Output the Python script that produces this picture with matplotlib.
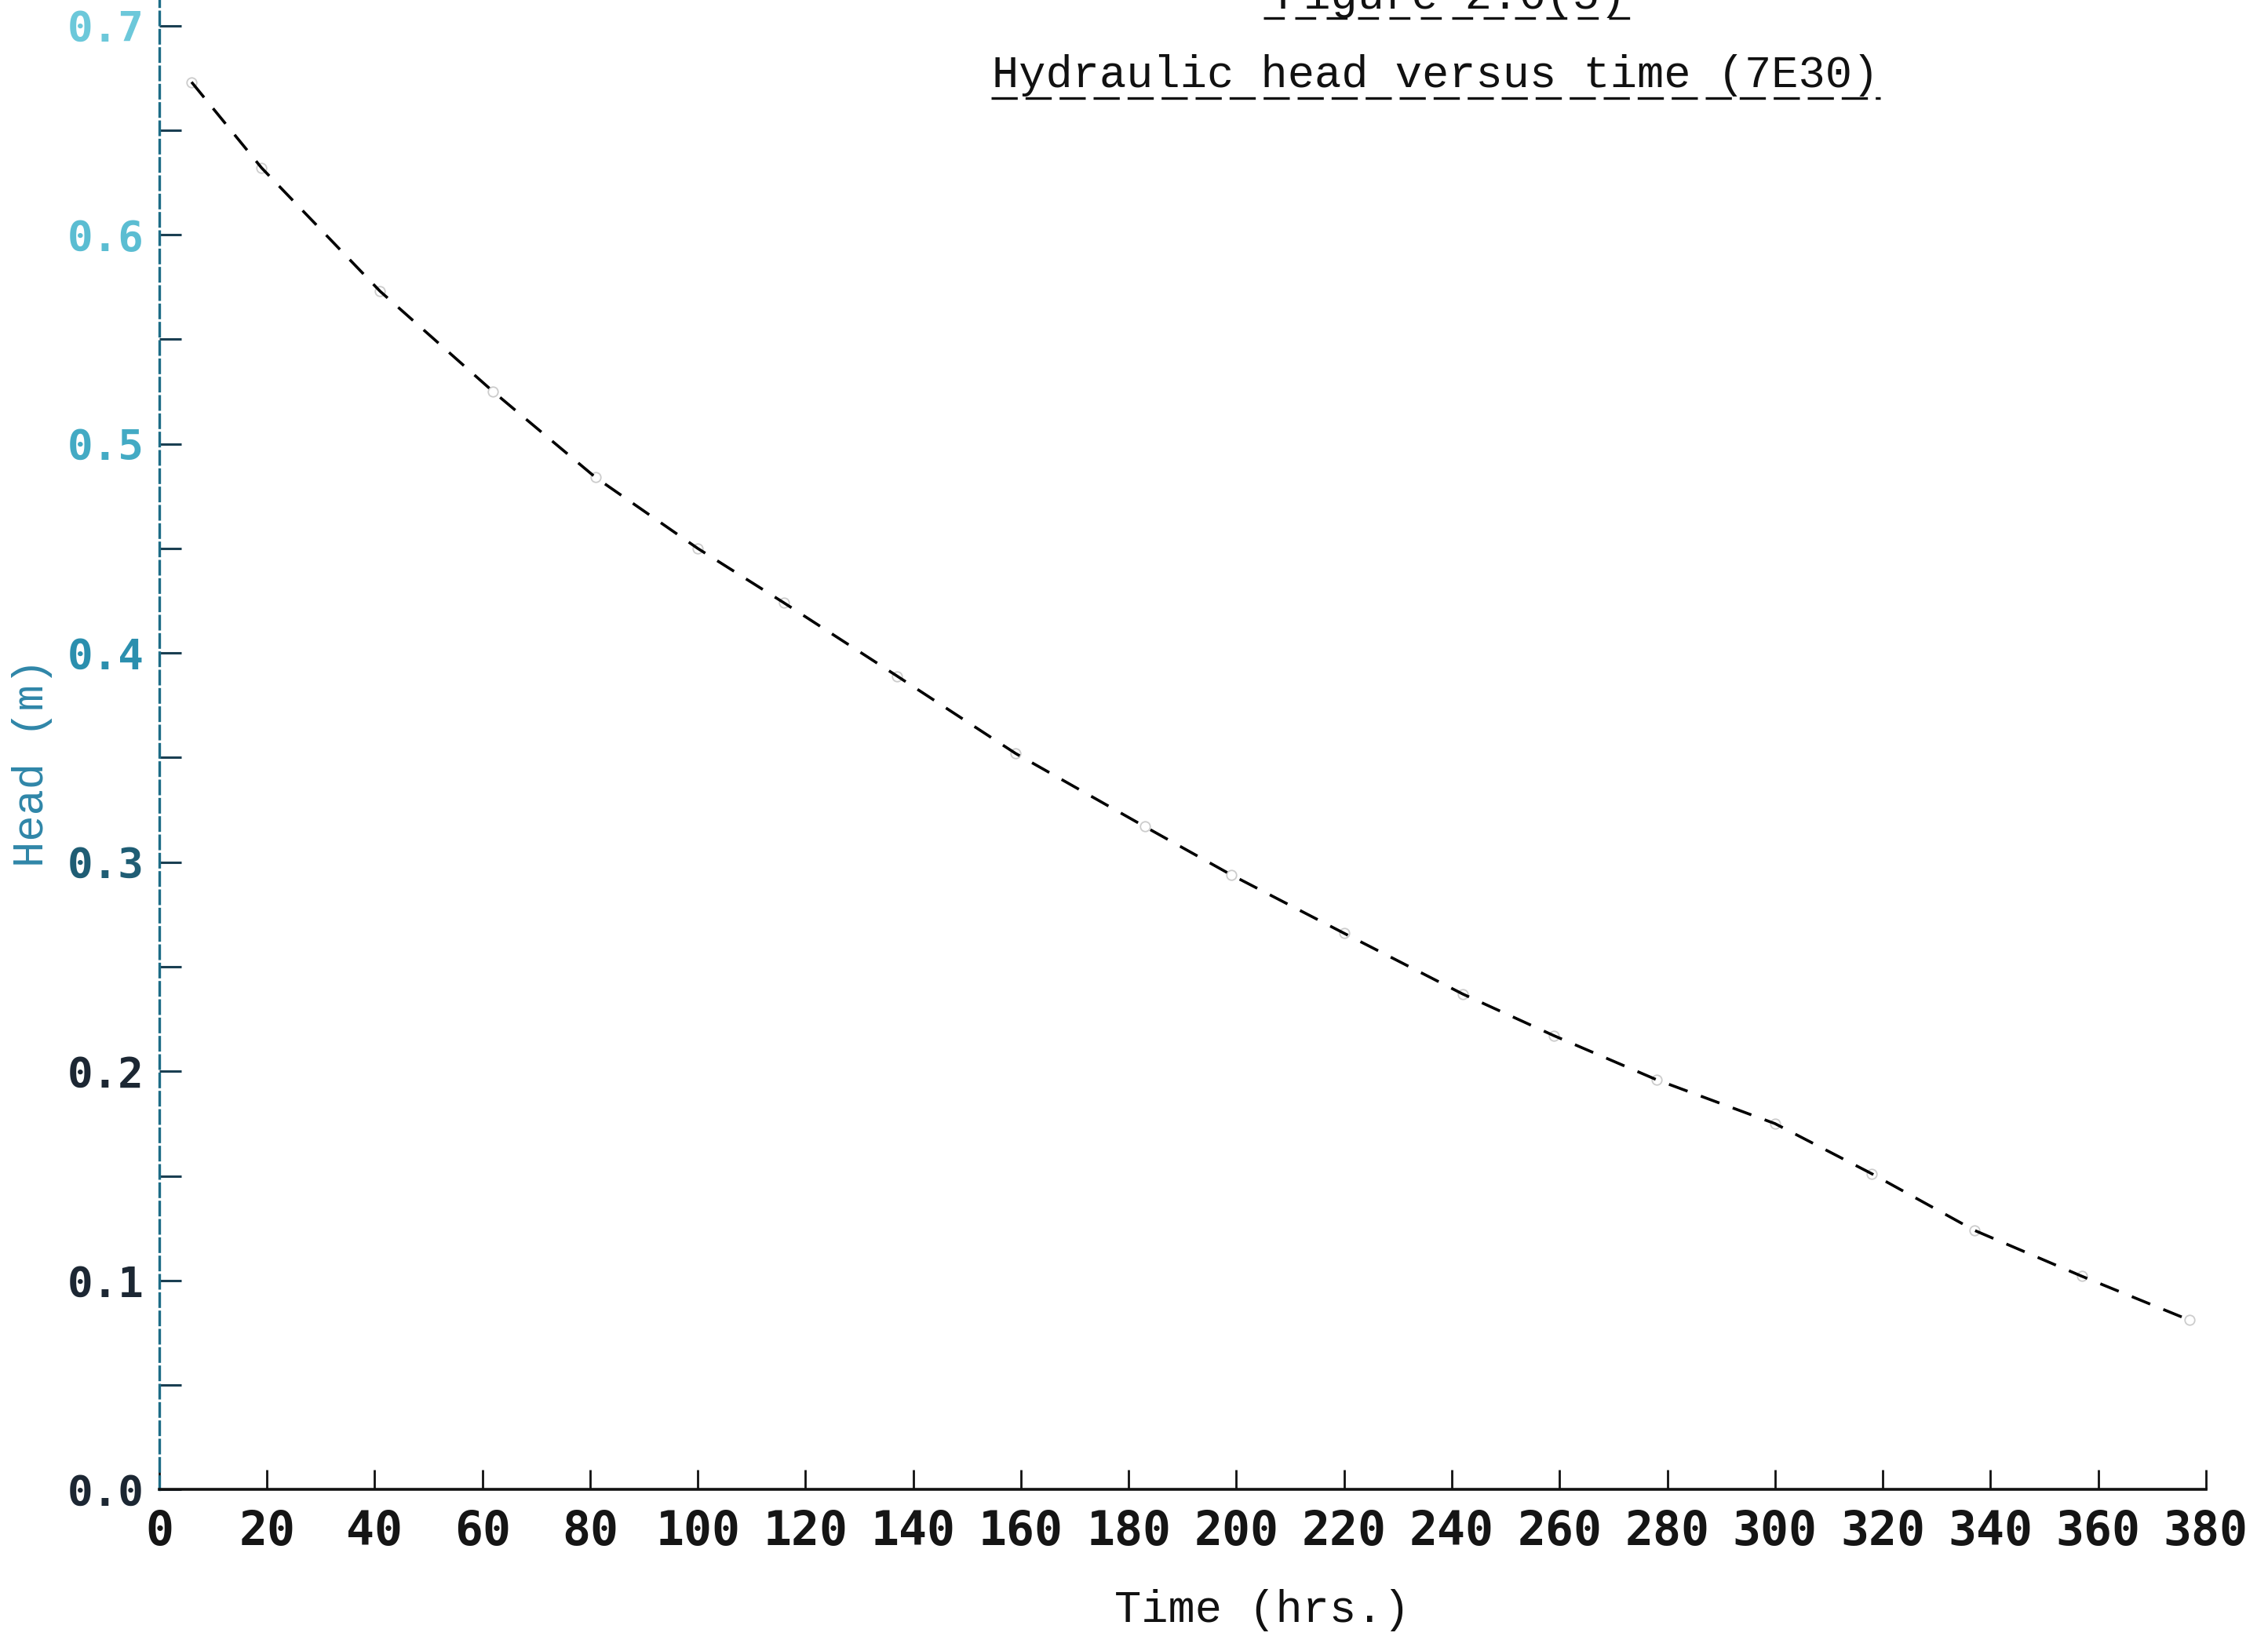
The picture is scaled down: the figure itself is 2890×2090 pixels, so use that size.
import matplotlib
matplotlib.use("Agg")
import matplotlib.pyplot as plt
from matplotlib.lines import Line2D
import numpy as np

# Values
time_hrs = [6, 19, 41, 62, 81, 100, 116, 137, 159, 183, 199, 220, 242, 259, 278, 300, 318, 337, 357, 377]
head_m = [0.673, 0.632, 0.573, 0.525, 0.484, 0.450, 0.424, 0.389, 0.352, 0.317,
          0.294, 0.266, 0.237, 0.217, 0.196, 0.175, 0.151, 0.124, 0.102, 0.081]

x_ticks = list(range(0, 381, 20))
y_ticks = [0.0, 0.1, 0.2, 0.3, 0.4, 0.5, 0.6, 0.7]
y_tick_labels = ["0.0", "0.1", "0.2", "0.3", "0.4", "0.5", "0.6", "0.7"]
y_label_colors = ["#1c2733", "#1c2733", "#1c2733", "#1f5d74", "#2b8fae", "#43aac4", "#5bbdd2", "#6cc8da"]

title = "Hydraulic head versus time (7E30)"
caption = "Figure 2.6(5)"

mono = ["Liberation Mono", "DejaVu Sans Mono"]
gothic = ["DejaVu Sans Mono"]

fig = plt.figure(figsize=(28.9, 20.9), dpi=100)
ax = fig.add_axes([0.0702, 0.0917, 0.9024, 0.908])

# the data line, dashed like the typed original
ax.plot(time_hrs, head_m, color="black", lw=2.6, dashes=(7, 5), zorder=3)
ax.plot(time_hrs, head_m, ls="none", marker="o", ms=9, mfc="none",
        mec="#9a9a9a", mew=1.3, alpha=0.5, zorder=2)

ax.set_xlim(0, 380)
ax.set_ylim(0, 0.712)

# axes - only left and bottom, drawn in by hand originally
for side in ["top", "right"]:
    ax.spines[side].set_visible(False)
ax.spines["bottom"].set_color("#111111")
ax.spines["bottom"].set_linewidth(2.6)
ax.spines["left"].set_color("#1d6c86")
ax.spines["left"].set_linewidth(2.4)
ax.spines["left"].set_linestyle((0, (5, 2)))

ax.set_xticks(x_ticks)
ax.set_xticklabels([str(v) for v in x_ticks], family=gothic, fontsize=43,
                   weight="bold", color="#151515")
ax.set_yticks(y_ticks)
ax.set_yticklabels(y_tick_labels, family=gothic, fontsize=39, weight="bold")
for lab, col in zip(ax.get_yticklabels(), y_label_colors):
    lab.set_color(col)
ax.set_yticks(np.arange(0.05, 0.7, 0.1), minor=True)

ax.tick_params(axis="x", direction="in", length=18, width=2, color="#111111", pad=18)
ax.tick_params(axis="y", which="both", direction="in", length=20, width=2.2,
               color="#1a3f52", pad=14)

ax.set_xlabel("Time (hrs.)", family=mono, fontsize=41, color="#111111")
ax.xaxis.set_label_coords(0.539, -0.067)
ax.set_ylabel("Head (m)", family=mono, fontsize=40, color="#2f86a8")
ax.yaxis.set_label_coords(-0.052, 0.488)

# title and the cut-off caption above it, both underlined with typed dashes
fig.text(0.633, 0.954, title, family=mono, fontsize=41, color="#111111",
         ha="center", va="center")
fig.add_artist(Line2D([0.437, 0.829], [0.940, 0.940], color="#111111", lw=2.4,
                      dashes=(10, 3), transform=fig.transFigure))
fig.text(0.640, 0.9945, caption, family=mono, fontsize=41, color="#111111",
         ha="center", va="baseline")
fig.add_artist(Line2D([0.557, 0.7226], [0.989, 0.989], color="#111111", lw=2.4,
                      dashes=(8, 4), transform=fig.transFigure))

fig.savefig("out.png", dpi=100, facecolor="white")
